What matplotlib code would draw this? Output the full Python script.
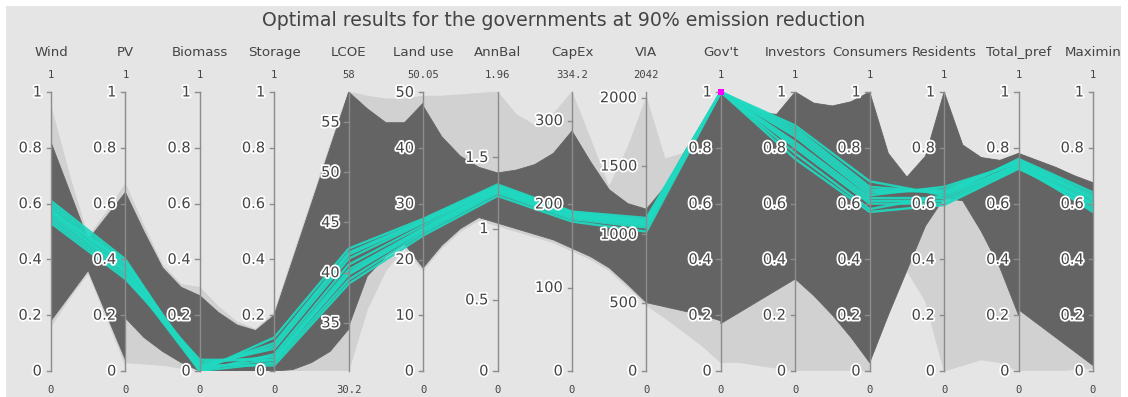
import matplotlib
matplotlib.use("Agg")
import matplotlib.pyplot as plt
import matplotlib.patheffects as pe
from matplotlib.patches import Rectangle, Polygon
import numpy as np

# ---------------------------------------------------------------- data
dimensions = ["Wind", "PV", "Biomass", "Storage", "LCOE", "Land use", "AnnBal",
              "CapEx", "VIA", "Gov't", "Investors", "Consumers", "Residents",
              "Total_pref", "Maximin"]
range_min = [0, 0, 0, 0, 30.2, 0, 0, 0, 0, 0, 0, 0, 0, 0, 0]
range_max = [1, 1, 1, 1, 58, 50.05, 1.96, 334.2, 2042, 1, 1, 1, 1, 1, 1]
range_min_text = ["0", "0", "0", "0", "30.2", "0", "0", "0", "0", "0",
                  "0", "0", "0", "0", "0"]
range_max_text = ["1", "1", "1", "1", "58", "50.05", "1.96", "334.2", "2042",
                  "1", "1", "1", "1", "1", "1"]

unit_ticks = [0, 0.2, 0.4, 0.6, 0.8, 1]
lcoe_ticks = [35, 40, 45, 50, 55]
land_ticks = [0, 10, 20, 30, 40, 50]
annbal_ticks = [0, 0.5, 1, 1.5]
capex_ticks = [0, 100, 200, 300]
via_ticks = [0, 500, 1000, 1500, 2000]
tick_values = ([unit_ticks] * 4 + [lcoe_ticks, land_ticks, annbal_ticks,
               capex_ticks, via_ticks] + [unit_ticks] * 6)

# Envelope of the full solution set between neighbouring axes, as a share of
# each axis range, sampled at 0, 1/4, 1/2, 3/4 and 1 of the gap.
dense_upper = [
    [0.82, 0.645, 0.47, 0.555, 0.64],
    [0.64, 0.50, 0.37, 0.30, 0.27],
    [0.27, 0.21, 0.165, 0.145, 0.20],
    [0.20, 0.40, 0.60, 0.80, 1.00],
    [1.00, 0.94, 0.89, 0.89, 0.96],
    [0.95, 0.84, 0.77, 0.73, 0.71],
    [0.71, 0.72, 0.74, 0.78, 0.86],
    [0.86, 0.75, 0.65, 0.60, 0.58],
    [0.58, 0.66, 0.78, 0.89, 1.00],
    [1.00, 0.96, 0.925, 0.92, 1.00],
    [1.00, 0.96, 0.95, 0.965, 1.00],
    [1.00, 0.78, 0.695, 0.77, 1.00],
    [1.00, 0.81, 0.765, 0.755, 0.78],
    [0.78, 0.755, 0.73, 0.70, 0.675],
]
dense_lower = [
    [0.18, 0.27, 0.36, 0.20, 0.04],
    [0.19, 0.12, 0.07, 0.03, 0.00],
    [0.00, 0.00, 0.00, 0.00, 0.00],
    [0.00, 0.005, 0.03, 0.07, 0.15],
    [0.16, 0.34, 0.41, 0.455, 0.37],
    [0.37, 0.45, 0.51, 0.55, 0.53],
    [0.53, 0.51, 0.49, 0.47, 0.44],
    [0.44, 0.41, 0.37, 0.31, 0.245],
    [0.245, 0.23, 0.215, 0.20, 0.18],
    [0.17, 0.21, 0.25, 0.29, 0.33],
    [0.33, 0.27, 0.20, 0.12, 0.03],
    [0.03, 0.20, 0.36, 0.52, 0.62],
    [0.62, 0.61, 0.50, 0.37, 0.20],
    [0.22, 0.17, 0.12, 0.07, 0.02],
]
# Envelope of the scattered outlying solutions
sparse_upper = [
    [0.95, 0.70, 0.48, 0.57, 0.67],
    [0.67, 0.52, 0.38, 0.31, 0.30],
    [0.30, 0.23, 0.175, 0.15, 0.21],
    [0.21, 0.41, 0.61, 0.81, 1.00],
    [1.00, 0.985, 0.975, 0.975, 0.985],
    [0.985, 0.985, 0.99, 0.995, 1.00],
    [1.00, 0.92, 0.88, 0.92, 1.00],
    [1.00, 0.83, 0.66, 0.80, 0.98],
    [0.98, 0.76, 0.78, 0.89, 1.00],
    [1.00, 0.96, 0.925, 0.92, 1.00],
    [1.00, 0.96, 0.95, 0.965, 1.00],
    [1.00, 0.78, 0.695, 0.77, 1.00],
    [1.00, 0.81, 0.765, 0.755, 0.78],
    [0.78, 0.755, 0.73, 0.70, 0.675],
]
sparse_lower = [
    [0.16, 0.26, 0.35, 0.19, 0.02],
    [0.03, 0.025, 0.02, 0.01, 0.00],
    [0.00, 0.00, 0.00, 0.00, 0.00],
    [0.00, 0.00, 0.00, 0.00, 0.00],
    [0.00, 0.22, 0.36, 0.44, 0.36],
    [0.36, 0.44, 0.50, 0.54, 0.52],
    [0.52, 0.50, 0.48, 0.46, 0.43],
    [0.43, 0.40, 0.36, 0.30, 0.235],
    [0.235, 0.19, 0.14, 0.09, 0.03],
    [0.03, 0.03, 0.02, 0.01, 0.00],
    [0.00, 0.00, 0.00, 0.00, 0.00],
    [0.03, 0.20, 0.36, 0.25, 0.00],
    [0.00, 0.02, 0.04, 0.03, 0.00],
    [0.00, 0.00, 0.00, 0.005, 0.01],
]

# Solutions preferred by the governments (highlighted)
wind_sel = [0.61, 0.60, 0.59, 0.58, 0.57, 0.56, 0.55, 0.54, 0.53, 0.57]
pv_sel = [0.40, 0.39, 0.38, 0.37, 0.36, 0.36, 0.35, 0.34, 0.33, 0.39]
biomass_sel = [0.00, 0.01, 0.02, 0.00, 0.03, 0.01, 0.00, 0.02, 0.04, 0.01]
storage_sel = [0.12, 0.10, 0.08, 0.06, 0.05, 0.04, 0.03, 0.02, 0.04, 0.09]
lcoe_sel = [42.4, 42.0, 41.4, 40.8, 40.3, 39.8, 39.3, 38.9, 40.0, 41.8]
land_sel = [27.3, 27.0, 26.6, 26.1, 25.6, 25.2, 24.8, 24.3, 25.5, 26.8]
annbal_sel = [1.31, 1.30, 1.29, 1.28, 1.27, 1.26, 1.25, 1.23, 1.27, 1.29]
capex_sel = [191, 190, 189, 187, 186, 184, 182, 179, 185, 188]
via_sel = [1120, 1105, 1095, 1085, 1075, 1065, 1050, 1020, 1070, 1100]
govt_sel = [1.0, 1.0, 1.0, 1.0, 1.0, 1.0, 1.0, 1.0, 1.0, 1.0]
investors_sel = [0.88, 0.87, 0.85, 0.84, 0.82, 0.81, 0.80, 0.78, 0.76, 0.86]
consumers_sel = [0.68, 0.66, 0.64, 0.63, 0.62, 0.61, 0.60, 0.58, 0.57, 0.65]
residents_sel = [0.63, 0.64, 0.65, 0.66, 0.62, 0.61, 0.60, 0.63, 0.595, 0.64]
total_sel = [0.76, 0.755, 0.75, 0.745, 0.74, 0.735, 0.73, 0.74, 0.725, 0.75]
maximin_sel = [0.64, 0.63, 0.62, 0.61, 0.60, 0.59, 0.58, 0.57, 0.60, 0.62]
selected = [wind_sel, pv_sel, biomass_sel, storage_sel, lcoe_sel, land_sel,
            annbal_sel, capex_sel, via_sel, govt_sel, investors_sel,
            consumers_sel, residents_sel, total_sel, maximin_sel]

constraint_axis = "Gov't"
constraint_range = [0.99, 1.0]

title = "Optimal results for the governments at 90% emission reduction"

# ---------------------------------------------------------------- figure
W, H = 1128, 397
fig = plt.figure(figsize=(W / 100, H / 100), dpi=100, facecolor="white")
fig.patches.append(Rectangle((6 / W, 0), (1121 - 6) / W, (H - 6) / H,
                             transform=fig.transFigure, facecolor="#e5e5e5",
                             edgecolor="none", zorder=-10))

x0, x1, ytop, ybot = 51, 1093, 92, 371
ax = fig.add_axes([x0 / W, (H - ybot) / H, (x1 - x0) / W, (ybot - ytop) / H])
ax.set_zorder(1)
ax.set_xlim(0, len(dimensions) - 1)
ax.set_ylim(0, 1)
ax.axis("off")
ax.patch.set_alpha(0)

px_per_unit_y = ybot - ytop


def norm(i, v):
    return (np.asarray(v, dtype=float) - range_min[i]) / (range_max[i] - range_min[i])


t = np.linspace(0, 1, 5)
for s in range(len(dimensions) - 1):
    xs = s + t
    for up, lo, col, z in ((sparse_upper, sparse_lower, "#d1d1d1", 1),
                           (dense_upper, dense_lower, "#646464", 2)):
        pts = np.vstack([np.column_stack([xs, up[s]]),
                         np.column_stack([xs[::-1], lo[s][::-1]])])
        ax.add_patch(Polygon(pts, closed=True, facecolor=col, edgecolor=col,
                             linewidth=0.6, joinstyle="round", zorder=z))

# highlighted solutions
xs_all = np.arange(len(dimensions))
sel = np.array([norm(i, selected[i]) for i in range(len(dimensions))])
for k in range(sel.shape[1]):
    ax.plot(xs_all, sel[:, k], color="#20d8c0", lw=1.7, alpha=0.95,
            solid_joinstyle="miter", zorder=4)

# axes, ticks and labels
halo = [pe.withStroke(linewidth=2.6, foreground="white")]
for i, name in enumerate(dimensions):
    ax.plot([i, i], [0, 1], color="#8c8c8c", lw=1.0, zorder=5,
            clip_on=False)
    for v in tick_values[i]:
        y = float(norm(i, v))
        ax.plot([i - 4.5 / (x1 - x0) * 14, i], [y, y], color="#8c8c8c",
                lw=1.0, zorder=5, clip_on=False)
        ax.annotate(f"{v:g}", (i, y), xytext=(-6.5, 0),
                    textcoords="offset points", ha="right", va="center",
                    fontsize=10.5, color="#444444", zorder=6,
                    path_effects=halo, annotation_clip=False)
    ax.text(i, 1 + (ytop - 53) / px_per_unit_y, name, ha="center",
            va="center", fontsize=9.6, color="#444444", clip_on=False)
    ax.text(i, 1 + (ytop - 75) / px_per_unit_y, range_max_text[i],
            ha="center", va="center", fontsize=7.6, color="#444444",
            family="DejaVu Sans Mono", clip_on=False)
    ax.text(i, -(390 - ybot) / px_per_unit_y, range_min_text[i],
            ha="center", va="center", fontsize=7.6, color="#444444",
            family="DejaVu Sans Mono", clip_on=False)

ci = dimensions.index(constraint_axis)
ax.plot([ci], [float(norm(ci, constraint_range[1]))], marker="s",
        markersize=4.2, color="#ff00ff", markeredgewidth=0, zorder=7,
        clip_on=False)

fig.text(564 / W, 1 - 20 / H, title, ha="center", va="center",
         fontsize=13.6, color="#444444")

fig.savefig("out.png", dpi=100, facecolor=fig.get_facecolor())
